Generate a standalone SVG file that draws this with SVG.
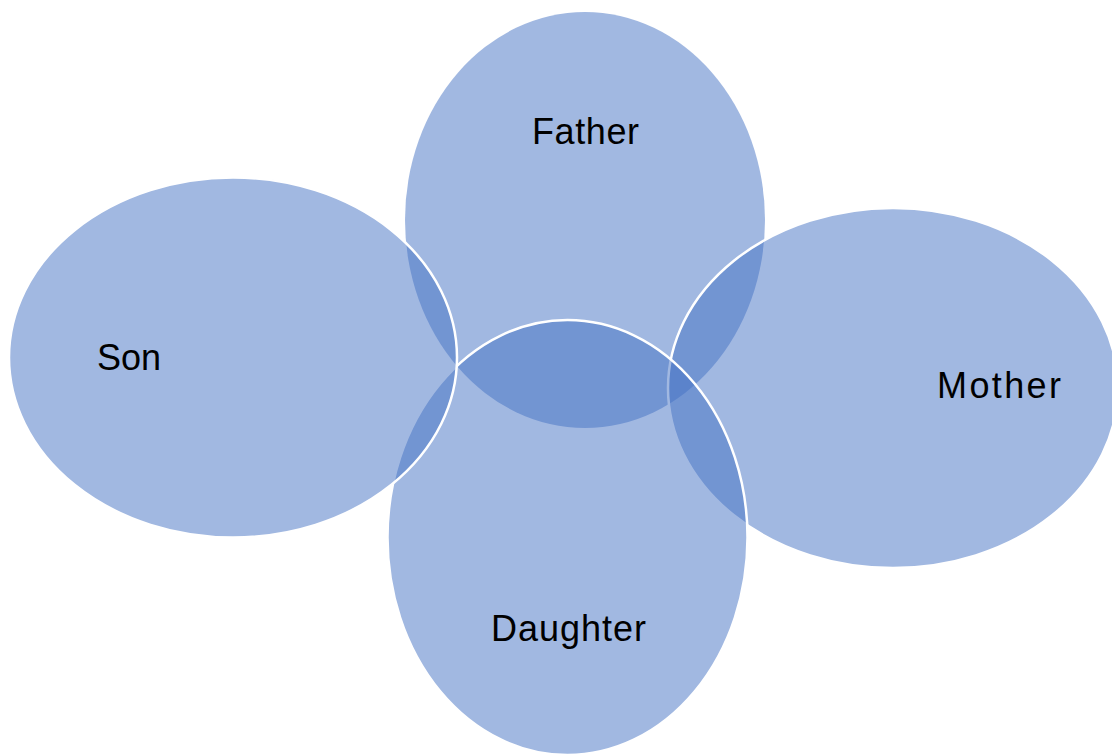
<svg xmlns="http://www.w3.org/2000/svg" width="1112" height="755" viewBox="0 0 1112 755">
  <style>
    .c { fill: #4472C4; fill-opacity: 0.5; stroke: #FFFFFF; stroke-width: 2.5; }
    .nostroke { stroke: none; }
    .t { font-family: "Liberation Sans", Arial, sans-serif; font-size: 36px; fill: #000000; }
  </style>
  <rect width="1112" height="755" fill="#FFFFFF"/>
  <g id="father">
    <ellipse class="c nostroke" cx="585" cy="220" rx="180" ry="208"/>
    <text class="t" x="532" y="144" textLength="107">Father</text>
  </g>
  <g id="mother">
    <ellipse class="c" cx="893" cy="388" rx="225" ry="180"/>
    <text class="t" x="937" y="398" textLength="124">Mother</text>
  </g>
  <g id="daughter">
    <ellipse class="c" cx="567.5" cy="537.5" rx="180" ry="217.5"/>
    <text class="t" x="491" y="641" textLength="155">Daughter</text>
  </g>
  <g id="son">
    <ellipse class="c" cx="233" cy="357.5" rx="224" ry="180"/>
    <text class="t" x="97" y="370">Son</text>
  </g>
  <g id="connectors"></g>
</svg>
